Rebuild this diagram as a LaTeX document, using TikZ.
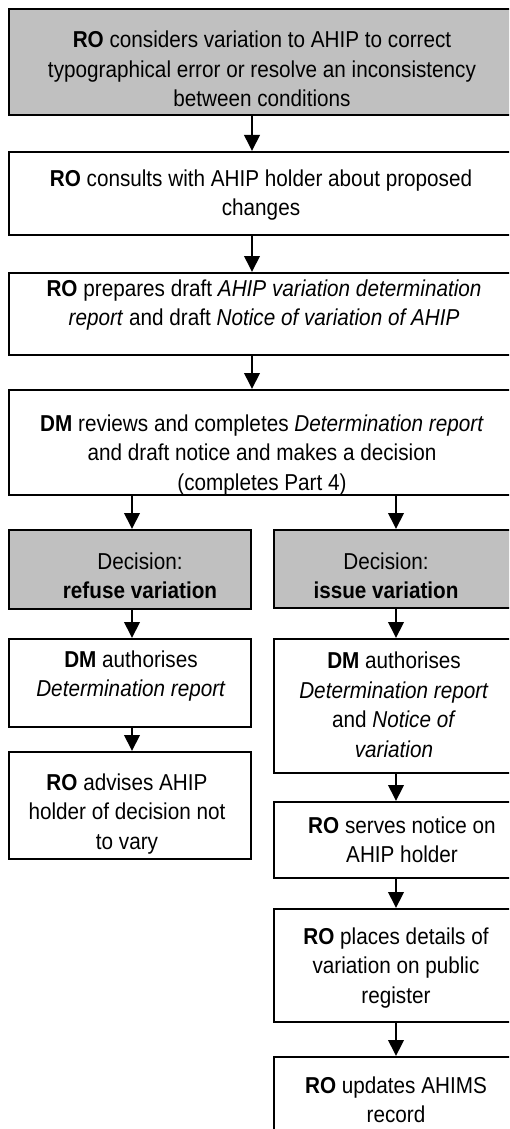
\documentclass[tikz,border=0pt]{standalone}
\usepackage{fontspec}
\setmainfont{Liberation Sans}[FakeStretch=0.9]
\usetikzlibrary{arrows.meta}
\definecolor{boxgray}{HTML}{C0C0C0}
\tikzset{
  stagebox/.style={draw=black, line width=2pt, fill=white, rectangle, inner sep=0pt},
  shaded/.style={fill=boxgray},
  label text/.style={align=center, inner sep=0pt, font=\fontsize{23}{29.5}\selectfont},
  flow/.style={line width=2pt, -{Triangle[width=15.5pt,length=16pt]}}
}
\begin{document}
\begin{tikzpicture}[x=1pt,y=-1pt]
\useasboundingbox (0,0) rectangle (509,1129);
\clip (0,0) rectangle (509,1129);

% arrow columns
\coordinate (cx) at (252,0);
\coordinate (cl) at (132,0);
\coordinate (cr) at (396,0);

% full-width stages
\node[stagebox, shaded, minimum width=507pt, minimum height=106pt] (b1) at (262.5,62) {};
\node[stagebox, minimum width=507pt, minimum height=83pt] (b2) at (262.5,193.5) {};
\node[stagebox, minimum width=507pt, minimum height=82pt] (b3) at (262.5,314) {};
\node[stagebox, minimum width=507pt, minimum height=105pt] (b4) at (262.5,442.5) {};

% decision boxes
\node[stagebox, shaded, minimum width=242pt, minimum height=79pt] (d1) at (130,569.5) {};
\node[stagebox, shaded, minimum width=244pt, minimum height=78pt] (d2) at (396,569) {};

% refuse branch
\node[stagebox, minimum width=242pt, minimum height=88pt] (l1) at (130,683) {};
\node[stagebox, minimum width=242pt, minimum height=107pt] (l2) at (130,805.5) {};

% issue branch
\node[stagebox, minimum width=244pt, minimum height=134pt] (r1) at (396,706) {};
\node[stagebox, minimum width=244pt, minimum height=76pt] (r2) at (396,840) {};
\node[stagebox, minimum width=244pt, minimum height=113pt] (r3) at (396,965.5) {};
\node[stagebox, minimum width=244pt, minimum height=93pt] (r4) at (396,1103.5) {};

% texts
\node[label text] (tb1) at (262,69) {\textbf{RO} considers variation to AHIP to correct\\typographical error or resolve an inconsistency\\between conditions};
\node[label text] (tb2) at (261,195) {\textbf{RO} consults with AHIP holder about proposed\\changes};
\node[label text] (tb3) at (264,305) {\textbf{RO} prepares draft \textit{AHIP variation determination}\\\textit{report} and draft \textit{Notice of variation of AHIP}};
\node[label text] (tb4) at (262,455) {\textbf{DM} reviews and completes \textit{Determination report}\\and draft notice and makes a decision\\(completes Part 4)};
\node[label text] (td1) at (140,576) {Decision:\\\textbf{refuse variation}};
\node[label text] (td2) at (386,576) {Decision:\\\textbf{issue variation}};
\node[label text] (tl1) at (131,676) {\textbf{DM} authorises\\\textit{Determination report}};
\node[label text] (tl2) at (127,814) {\textbf{RO} advises AHIP\\holder of decision not\\to vary};
\node[label text] (tr1) at (394,705) {\textbf{DM} authorises\\\textit{Determination report}\\and \textit{Notice of}\\\textit{variation}};
\node[label text] (tr2) at (402,840) {\textbf{RO} serves notice on\\AHIP holder};
\node[label text] (tr3) at (396,968) {\textbf{RO} places details of\\variation on public\\register};
\node[label text] (tr4) at (396,1100) {\textbf{RO} updates AHIMS\\record};

% connectors
\draw[flow] (b1.south -| cx) -- (b2.north -| cx);
\draw[flow] (b2.south -| cx) -- (b3.north -| cx);
\draw[flow] (b3.south -| cx) -- (b4.north -| cx);
\draw[flow] (b4.south -| cl) -- (d1.north -| cl);
\draw[flow] (b4.south -| cr) -- (d2.north -| cr);
\draw[flow] (d1.south -| cl) -- (l1.north -| cl);
\draw[flow] (l1.south -| cl) -- (l2.north -| cl);
\draw[flow] (d2.south -| cr) -- (r1.north -| cr);
\draw[flow] (r1.south -| cr) -- (r2.north -| cr);
\draw[flow] (r2.south -| cr) -- (r3.north -| cr);
\draw[flow] (r3.south -| cr) -- (r4.north -| cr);
\end{tikzpicture}
\end{document}
